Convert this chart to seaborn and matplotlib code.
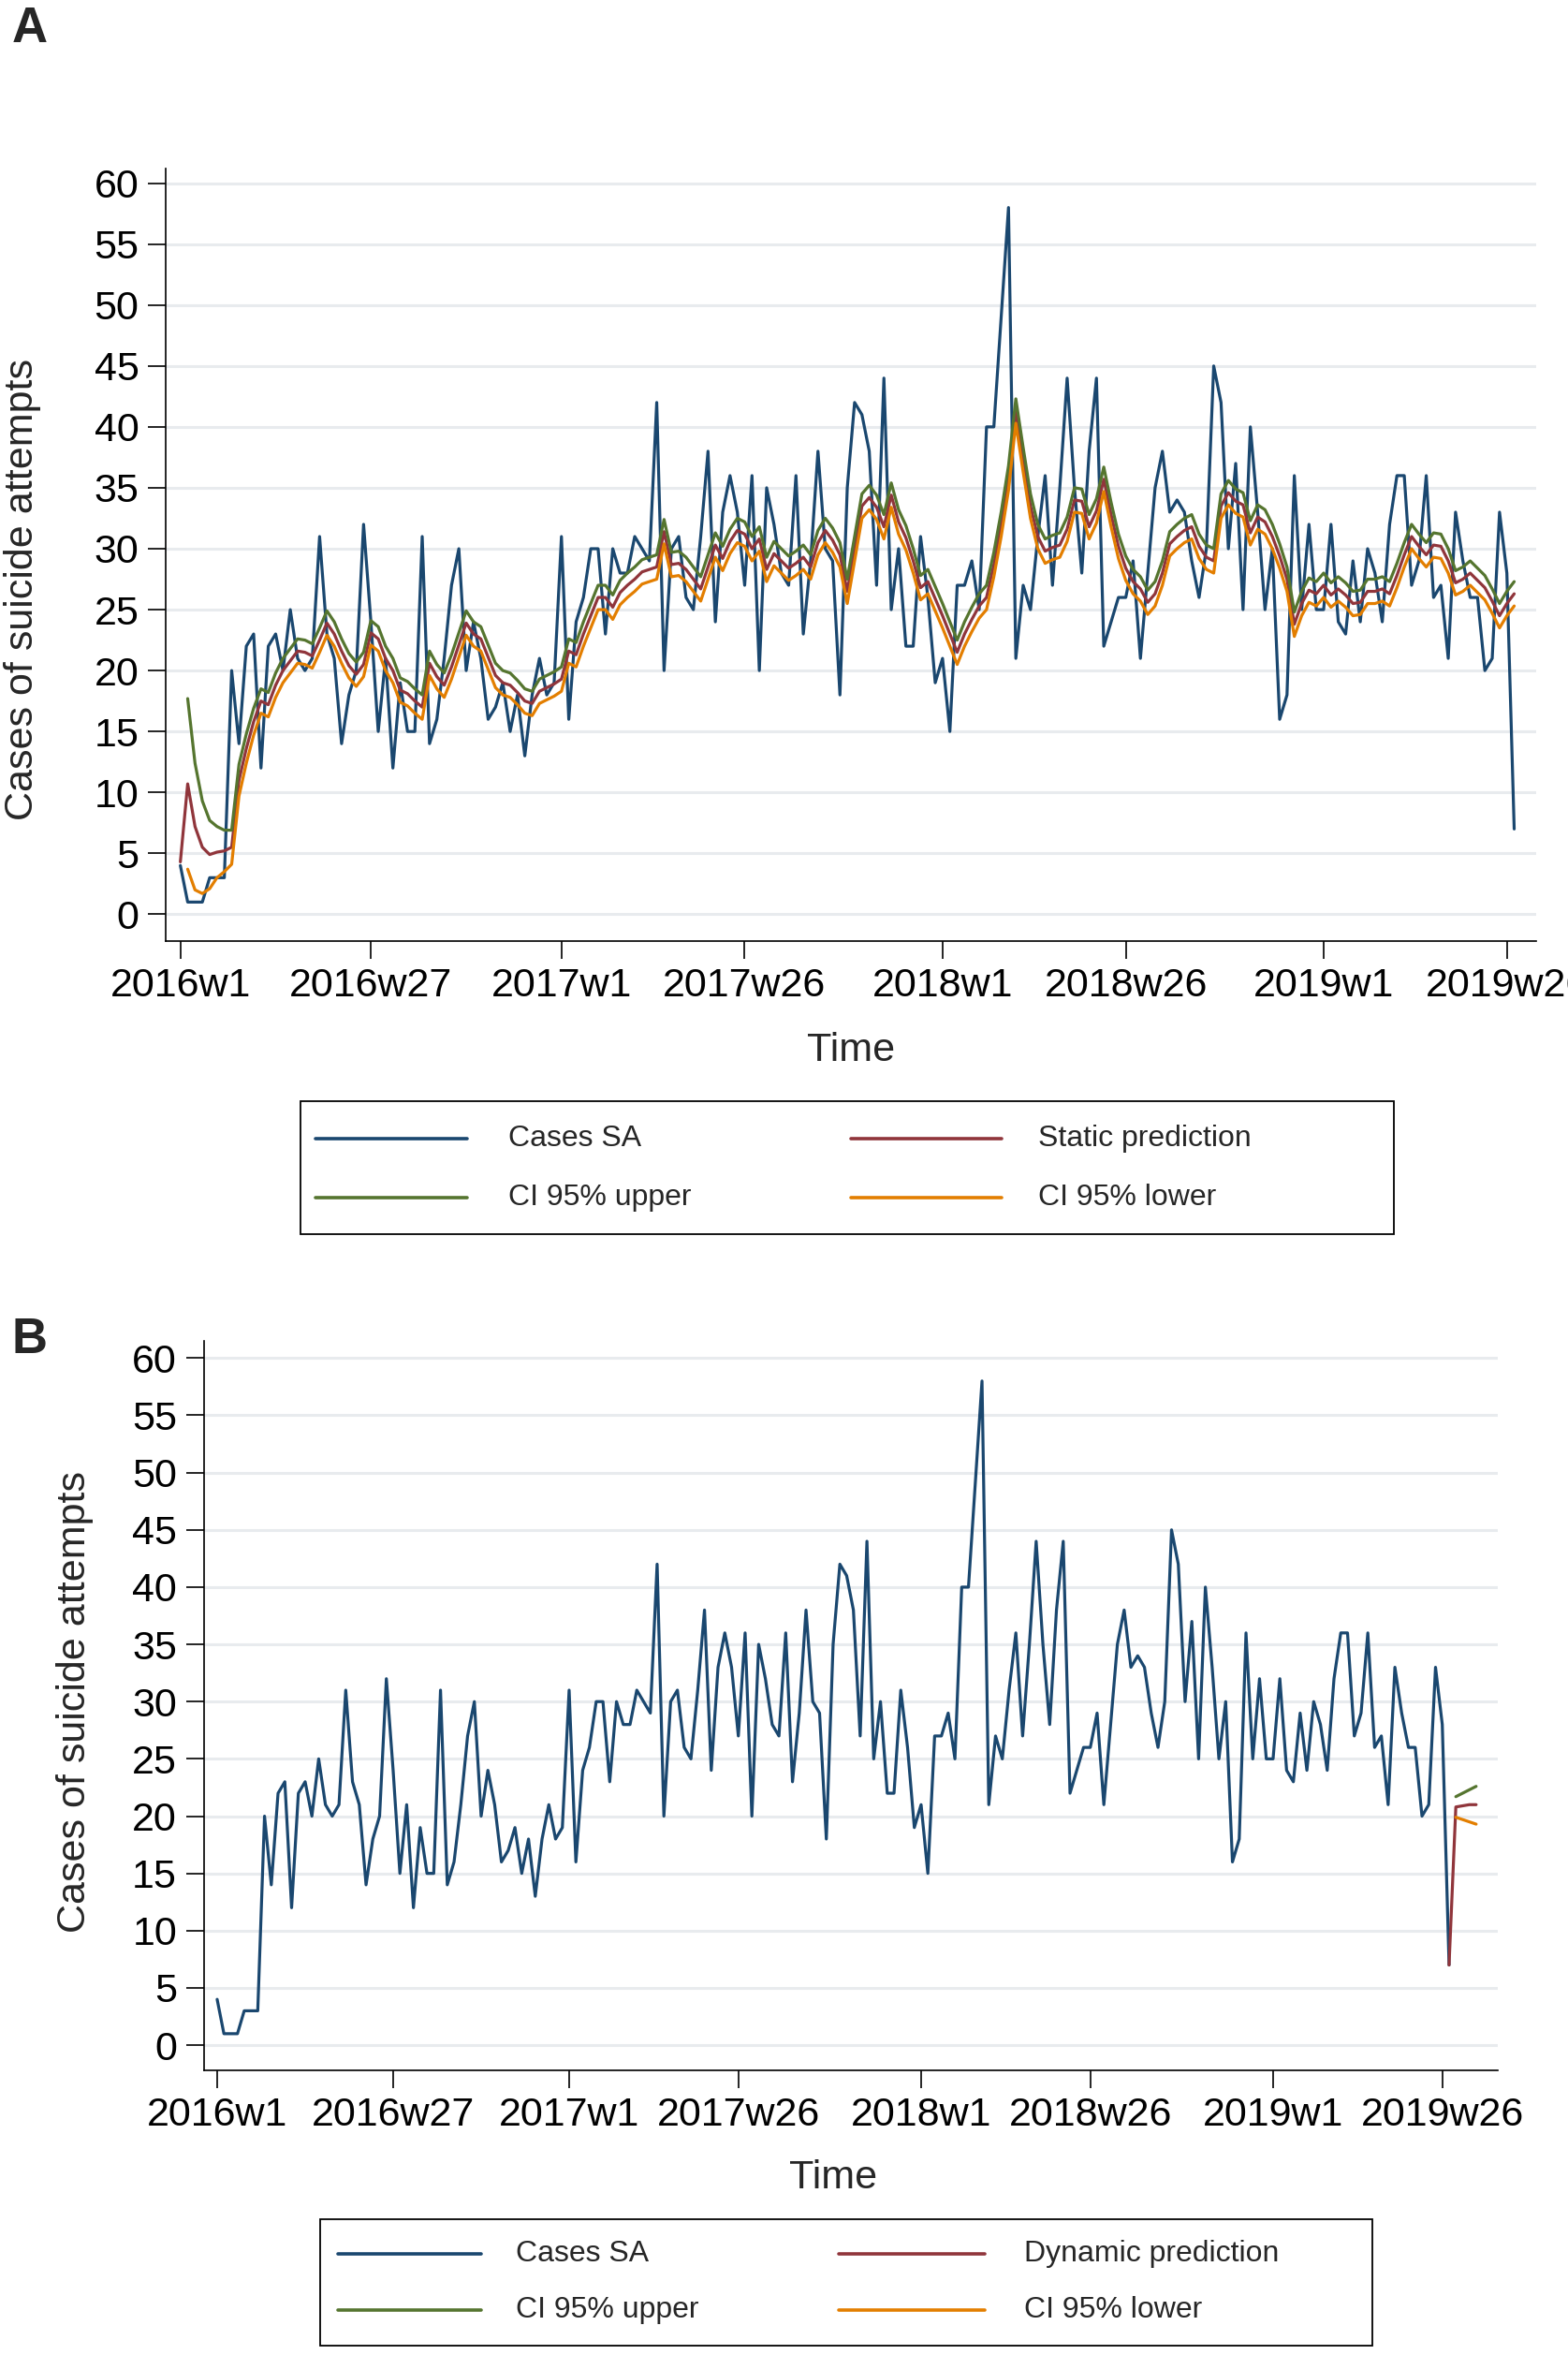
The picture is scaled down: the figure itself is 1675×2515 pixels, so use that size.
import numpy as np
import pandas as pd
import matplotlib
matplotlib.use("Agg")
import matplotlib.pyplot as plt
from matplotlib.lines import Line2D
from matplotlib.patches import Rectangle
import seaborn as sns

# weekly counts, 2016w1 .. 2019w27 (Stata %tw, week 0 = 2016w1)
cases = [
    4, 1, 1, 1, 3, 3, 3, 20, 14, 22,
    23, 12, 22, 23, 20, 25, 21, 20, 21, 31,
    23, 21, 14, 18, 20, 32, 24, 15, 21, 12,
    19, 15, 15, 31, 14, 16, 21, 27, 30, 20,
    24, 21, 16, 17, 19, 15, 18, 13, 18, 21,
    18, 19, 31, 16, 24, 26, 30, 30, 23, 30,
    28, 28, 31, 30, 29, 42, 20, 30, 31, 26,
    25, 31, 38, 24, 33, 36, 33, 27, 36, 20,
    35, 32, 28, 27, 36, 23, 29, 38, 30, 29,
    18, 35, 42, 41, 38, 27, 44, 25, 30, 22,
    22, 31, 26, 19, 21, 15, 27, 27, 29, 25,
    40, 40, 49, 58, 21, 27, 25, 31, 36, 27,
    35, 44, 35, 28, 38, 44, 22, 24, 26, 26,
    29, 21, 28, 35, 38, 33, 34, 33, 29, 26,
    30, 45, 42, 30, 37, 25, 40, 33, 25, 30,
    16, 18, 36, 25, 32, 25, 25, 32, 24, 23,
    29, 24, 30, 28, 24, 32, 36, 36, 27, 29,
    36, 26, 27, 21, 33, 29, 26, 26, 20, 21,
    33, 28, 7,
]

static_pred = [
    4.3, 10.7, 7.2, 5.5, 4.9, 5.1, 5.2, 5.5, 11.0, 13.6,
    15.8, 17.5, 17.2, 18.8, 20.0, 20.8, 21.6, 21.5, 21.2, 22.5,
    23.9, 23.0, 21.6, 20.4, 19.7, 20.5, 23.1, 22.6, 21.0, 20.0,
    18.4, 18.1, 17.5, 17.0, 20.6, 19.5, 18.8, 20.3, 22.1, 23.9,
    23.0, 22.6, 21.1, 19.6, 19.0, 18.8, 18.2, 17.5, 17.3, 18.3,
    18.6, 18.9, 19.3, 21.6, 21.3, 23.0, 24.5, 26.0, 26.0, 25.2,
    26.4, 27.0, 27.5, 28.1, 28.3, 28.5, 31.4, 28.7, 28.8, 28.3,
    27.5, 26.7, 28.5, 30.3, 29.2, 30.6, 31.5, 31.2, 30.0, 30.8,
    28.3, 29.6, 29.0, 28.4, 28.8, 29.3, 28.5, 30.5, 31.5, 30.7,
    29.5, 26.5, 30.0, 33.5, 34.2, 33.4, 31.8, 34.4, 32.2, 30.9,
    29.0, 26.8, 27.3, 25.9, 24.5, 23.0, 21.5, 23.0, 24.2, 25.3,
    26.0, 28.7, 32.0, 35.8, 41.3, 37.3, 33.5, 31.0, 29.8, 30.1,
    30.3, 31.6, 34.0, 33.9, 31.8, 33.1, 35.7, 32.8, 30.2, 28.4,
    27.3, 26.7, 25.6, 26.3, 28.0, 30.4, 31.0, 31.5, 31.8, 30.2,
    29.3, 29.0, 33.5, 34.6, 33.9, 33.6, 31.3, 32.6, 32.2, 31.0,
    29.4, 27.5, 23.8, 25.5, 26.6, 26.3, 27.0, 26.2, 26.7, 26.2,
    25.5, 25.6, 26.5, 26.5, 26.7, 26.3, 27.8, 29.5, 31.0, 30.2,
    29.5, 30.3, 30.2, 29.0, 27.2, 27.5, 28.0, 27.4, 26.8, 25.7,
    24.5, 25.5, 26.3,
]

# half width of the 95% band around the static prediction (none at week 0)
ci_half = [np.nan, 7.0, 5.2, 3.8, 2.8, 2.1, 1.7, 1.4, 1.3, 1.2, 1.1] + [1.0] * 172

# dynamic forecast in panel B
dyn_weeks = [182, 183, 184, 185, 186]
dyn_pred = [7.0, 20.8, 20.9, 21.0, 21.0]
dyn_ci_weeks = [183, 184, 185, 186]
dyn_upper = [21.7, 22.0, 22.3, 22.6]
dyn_lower = [19.9, 19.7, 19.5, 19.3]

tick_weeks = [0, 26, 52, 77, 104, 129, 156, 181]
tick_labels = ["2016w1", "2016w27", "2017w1", "2017w26",
               "2018w1", "2018w26", "2019w1", "2019w26"]

NAVY = "#1a476f"
MAROON = "#90353b"
GREEN = "#55752f"
ORANGE = "#e37e00"
GRID = "#e8ebee"

sns.set_style("white")
plt.rcParams["font.family"] = ["Liberation Sans", "DejaVu Sans"]

W, H = 1675, 2515
fig = plt.figure(figsize=(W / 100, H / 100), dpi=100)


def fx(x):
    return x / W


def fy(y):
    return 1 - y / H


weeks = np.arange(len(cases))
df = pd.DataFrame({"week": weeks, "cases": cases, "pred": static_pred,
                   "upper": np.array(static_pred) + np.array(ci_half),
                   "lower": np.array(static_pred) - np.array(ci_half)})
dfc = df.dropna()

LW = 2.3


def style_axis(ax, xmax, ytop):
    ax.set_xlim(-2, xmax)
    ax.set_ylim(-2.2, ytop)
    ax.set_yticks(range(0, 61, 5))
    ax.set_xticks(tick_weeks)
    ax.set_xticklabels(tick_labels)
    ax.yaxis.grid(True, color=GRID, lw=2.2)
    ax.xaxis.grid(False)
    ax.set_axisbelow(True)
    for s in ["top", "right"]:
        ax.spines[s].set_visible(False)
    for s in ["left", "bottom"]:
        ax.spines[s].set_color("black")
        ax.spines[s].set_linewidth(1.2)
    ax.tick_params(axis="both", direction="out", length=13.5, width=1.2,
                   labelsize=31, colors="black", left=True, bottom=True)
    ax.tick_params(axis="x", pad=7)
    ax.tick_params(axis="y", pad=7)
    ax.set_xlabel("")
    ax.set_ylabel("")


def legend_box(x0, y0, x1, y1, rows, cols, entries):
    fig.add_artist(Rectangle((fx(x0), fy(y1)), fx(x1) - fx(x0), fy(y0) - fy(y1),
                             transform=fig.transFigure, fill=False,
                             edgecolor="black", lw=1.3))
    for (r, c), (label, color) in entries.items():
        lx0, lx1, tx = cols[c]
        fig.add_artist(Line2D([fx(lx0), fx(lx1)], [fy(rows[r]), fy(rows[r])],
                              transform=fig.transFigure, color=color, lw=LW + 0.3))
        fig.text(fx(tx), fy(rows[r]), label, fontsize=23, ha="left", va="center")


# ---------------- Panel A ----------------
axA = fig.add_axes([fx(177), fy(1005), fx(1641) - fx(177), fy(180) - fy(1005)])
sns.lineplot(x="week", y="cases", data=df, ax=axA, color=NAVY, lw=LW)
sns.lineplot(x="week", y="pred", data=df, ax=axA, color=MAROON, lw=LW)
sns.lineplot(x="week", y="upper", data=dfc, ax=axA, color=GREEN, lw=LW)
sns.lineplot(x="week", y="lower", data=dfc, ax=axA, color=ORANGE, lw=LW)
style_axis(axA, 185, 61.2)

fig.text(fx(13), fy(6), "A", fontsize=38, fontweight="bold", ha="left", va="top")
fig.text(fx(24), fy(630), "Cases of suicide attempts", fontsize=31,
         rotation=90, ha="center", va="center")
fig.text(fx(909), fy(1122), "Time", fontsize=31, ha="center", va="center")

legend_box(321, 1176, 1489, 1318, [1216, 1279],
           [(337, 499, 543), (909, 1070, 1109)],
           {(0, 0): ("Cases SA", NAVY), (0, 1): ("Static prediction", MAROON),
            (1, 0): ("CI 95% upper", GREEN), (1, 1): ("CI 95% lower", ORANGE)})

# ---------------- Panel B ----------------
axB = fig.add_axes([fx(217.5), fy(2211), fx(1600) - fx(217.5), fy(1432) - fy(2211)])
sns.lineplot(x="week", y="cases", data=df, ax=axB, color=NAVY, lw=LW)
sns.lineplot(x=dyn_weeks, y=dyn_pred, ax=axB, color=MAROON, lw=LW)
sns.lineplot(x=dyn_ci_weeks, y=dyn_upper, ax=axB, color=GREEN, lw=LW)
sns.lineplot(x=dyn_ci_weeks, y=dyn_lower, ax=axB, color=ORANGE, lw=LW)
style_axis(axB, 189.2, 61.5)

fig.text(fx(13), fy(1406), "B", fontsize=38, fontweight="bold", ha="left", va="top")
fig.text(fx(80), fy(1818), "Cases of suicide attempts", fontsize=31,
         rotation=90, ha="center", va="center")
fig.text(fx(890), fy(2326), "Time", fontsize=31, ha="center", va="center")

legend_box(342, 2370, 1466, 2505, [2407, 2467],
           [(361, 514, 551), (896, 1052, 1094)],
           {(0, 0): ("Cases SA", NAVY), (0, 1): ("Dynamic prediction", MAROON),
            (1, 0): ("CI 95% upper", GREEN), (1, 1): ("CI 95% lower", ORANGE)})

fig.savefig("out.png", dpi=100)
